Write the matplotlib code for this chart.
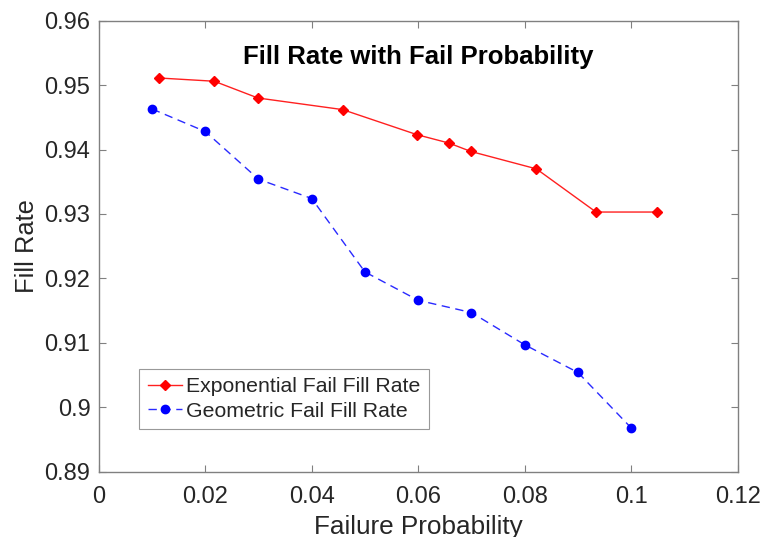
import matplotlib
matplotlib.use("Agg")
import matplotlib.pyplot as plt

plt.rcParams['font.family'] = ['Liberation Sans', 'DejaVu Sans']

exp_x = [0.0114, 0.0217, 0.0299, 0.0458, 0.0598, 0.0658, 0.0699, 0.0822, 0.0934, 0.1048]
exp_y = [0.9511, 0.9506, 0.9480, 0.9462, 0.9423, 0.9410, 0.9397, 0.9370, 0.9303, 0.9303]
geo_x = [0.01, 0.02, 0.03, 0.04, 0.05, 0.06, 0.07, 0.08, 0.09, 0.10]
geo_y = [0.9463, 0.9428, 0.9354, 0.9324, 0.9210, 0.9166, 0.9147, 0.9097, 0.9054, 0.8968]

xticks = [0, 0.02, 0.04, 0.06, 0.08, 0.1, 0.12]
xticklabels = ['0', '0.02', '0.04', '0.06', '0.08', '0.1', '0.12']
yticks = [0.89, 0.9, 0.91, 0.92, 0.93, 0.94, 0.95, 0.96]
yticklabels = ['0.89', '0.9', '0.91', '0.92', '0.93', '0.94', '0.95', '0.96']

fig = plt.figure(figsize=(7.63, 5.37), dpi=100)
ax = fig.add_axes([0.1294, 0.1216, 0.8374, 0.8399])

ax.plot(exp_x, exp_y, '-', color='#ff2020', lw=1.0, marker='D', ms=5.5,
        mfc='#ff0000', mec='#ff0000', label='Exponential Fail Fill Rate')
ax.plot(geo_x, geo_y, '--', color='#2a2aff', lw=1.0, marker='o', ms=6,
        mfc='#0000ff', mec='#0000ff', dashes=(6, 4), label='Geometric Fail Fill Rate')

ax.set_xlim(0, 0.12)
ax.set_ylim(0.89, 0.96)
ax.set_xticks(xticks)
ax.set_xticklabels(xticklabels)
ax.set_yticks(yticks)
ax.set_yticklabels(yticklabels)

for s in ax.spines.values():
    s.set_color('#808080')
    s.set_linewidth(1.0)
ax.tick_params(direction='in', top=True, right=True, length=5, width=0.8,
               color='#808080', labelsize=17, labelcolor='#262626')
ax.tick_params(axis='x', pad=10)
ax.tick_params(axis='y', pad=6)

ax.set_xlabel('Failure Probability', fontsize=18.8, color='#262626', labelpad=5)
ax.set_ylabel('Fill Rate', fontsize=18.4, color='#262626', labelpad=4)
ax.text(0.5, 0.92, 'Fill Rate with Fail Probability', transform=ax.transAxes,
        ha='center', va='center', fontsize=18.5, fontweight='bold', color='#000000')

leg = ax.legend(loc='lower left', bbox_to_anchor=(0.0635, 0.094), borderaxespad=0,
                fontsize=15.3, frameon=True, fancybox=False, handlelength=1.6,
                handletextpad=0.2, borderpad=0.4, labelspacing=0.25)
leg.get_frame().set_edgecolor('#808080')
leg.get_frame().set_linewidth(0.8)
for t in leg.get_texts():
    t.set_color('#262626')

fig.savefig('out.png', dpi=100)
